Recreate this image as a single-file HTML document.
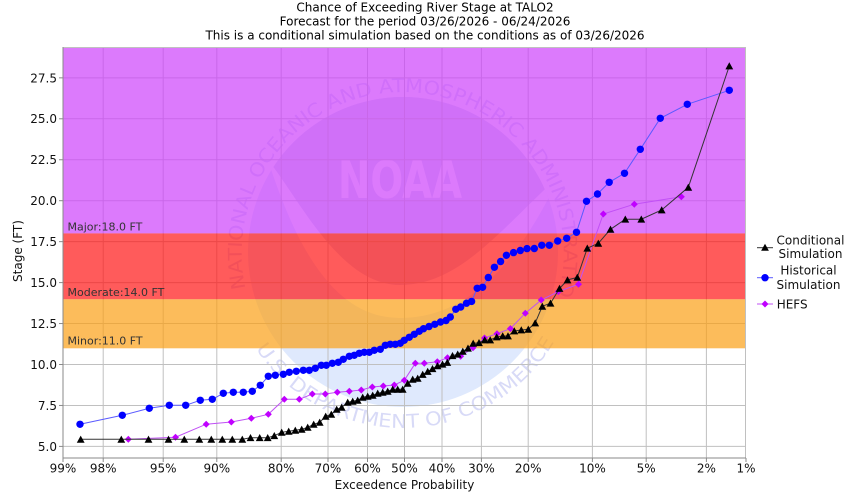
<!DOCTYPE html>
<html>
<head>
<meta charset="utf-8">
<style>
  html,body{margin:0;padding:0;background:#fff;}
  svg{display:block;}
  text{font-family:"DejaVu Sans","Liberation Sans",sans-serif;}
</style>
</head>
<body>
<svg width="850" height="500" viewBox="0 0 850 500" xmlns="http://www.w3.org/2000/svg">
  <defs>
    <clipPath id="plot"><rect x="63" y="47" width="683" height="411"/></clipPath>
    <clipPath id="circ"><circle cx="403" cy="252" r="155"/></clipPath>
    <path id="arcTop" d="M 245.6,288.4 A 161,161 0 1 1 559.2,290.9"/>
    <path id="arcBot" d="M 250.6,340 A 176,176 0 0 0 555.4,340"/>
    <marker id="mt" markerWidth="10" markerHeight="10" refX="5" refY="5" markerUnits="userSpaceOnUse" overflow="visible">
      <path d="M5,1.3 L1.1,8.4 L8.9,8.4 Z" fill="#000"/>
    </marker>
    <marker id="mc" markerWidth="10" markerHeight="10" refX="5" refY="5" markerUnits="userSpaceOnUse" overflow="visible">
      <circle cx="5" cy="5" r="3.7" fill="#0000ff"/>
    </marker>
    <marker id="md" markerWidth="10" markerHeight="10" refX="5" refY="5" markerUnits="userSpaceOnUse" overflow="visible">
      <path d="M5,1.5 L8.5,5 L5,8.5 L1.5,5 Z" fill="#c000ff"/>
    </marker>
  </defs>

  <!-- Title -->
  <text x="425" y="11.4" font-size="12" text-anchor="middle" fill="#000">Chance of Exceeding River Stage at TALO2</text>
  <text x="425" y="25.4" font-size="12" text-anchor="middle" fill="#000">Forecast for the period 03/26/2026 - 06/24/2026</text>
  <text x="425" y="39.4" font-size="12" text-anchor="middle" fill="#000">This is a conditional simulation based on the conditions as of 03/26/2026</text>

  <!-- Plot background -->
  <rect x="63" y="47" width="683" height="411" fill="#fff"/>

  <!-- Watermark -->
  <g clip-path="url(#plot)">
    <g clip-path="url(#circ)">
      <rect x="240" y="90" width="330" height="330" fill="#dfe9fd"/>
      <path d="M 240,90 L 240,160 L 268,160 C 300,200 340,285 400,285 C 460,285 500,230 560,175 L 570,175 L 570,90 Z" fill="#d7def1"/>
      <path d="M 268,160 C 300,200 340,285 400,285 C 460,285 500,230 560,175 C 520,260 470,318 400,318 C 340,318 300,260 268,160 Z" fill="#ffffff"/>
      <text x="400" y="198" font-size="52" font-weight="bold" text-anchor="middle" fill="#ffffff" textLength="124" lengthAdjust="spacingAndGlyphs">NOAA</text>
    </g>
    <text font-size="19" fill="#d8daf7">
      <textPath href="#arcTop" textLength="600" lengthAdjust="spacingAndGlyphs">NATIONAL OCEANIC AND ATMOSPHERIC ADMINISTRATION</textPath>
    </text>
    <text font-size="19" fill="#d8daf7">
      <textPath href="#arcBot" textLength="356" lengthAdjust="spacingAndGlyphs" startOffset="10">U.S. DEPARTMENT OF COMMERCE</textPath>
    </text>
  </g>

  <!-- Grid -->
  <g stroke="#c0c0c0" stroke-width="1">
    <line x1="63" x2="746" y1="446.4" y2="446.4"/>
    <line x1="63" x2="746" y1="405.45" y2="405.45"/>
    <line x1="63" x2="746" y1="364.5" y2="364.5"/>
    <line x1="63" x2="746" y1="323.55" y2="323.55"/>
    <line x1="63" x2="746" y1="282.6" y2="282.6"/>
    <line x1="63" x2="746" y1="241.65" y2="241.65"/>
    <line x1="63" x2="746" y1="200.7" y2="200.7"/>
    <line x1="63" x2="746" y1="159.75" y2="159.75"/>
    <line x1="63" x2="746" y1="118.8" y2="118.8"/>
    <line x1="63" x2="746" y1="77.85" y2="77.85"/>
    <line y1="47" y2="458" x1="103.2" x2="103.2"/>
    <line y1="47" y2="458" x1="163.2" x2="163.2"/>
    <line y1="47" y2="458" x1="216.8" x2="216.8"/>
    <line y1="47" y2="458" x1="281.2" x2="281.2"/>
    <line y1="47" y2="458" x1="328" x2="328"/>
    <line y1="47" y2="458" x1="367.5" x2="367.5"/>
    <line y1="47" y2="458" x1="404.5" x2="404.5"/>
    <line y1="47" y2="458" x1="442" x2="442"/>
    <line y1="47" y2="458" x1="481.4" x2="481.4"/>
    <line y1="47" y2="458" x1="528.2" x2="528.2"/>
    <line y1="47" y2="458" x1="592.4" x2="592.4"/>
    <line y1="47" y2="458" x1="646.2" x2="646.2"/>
    <line y1="47" y2="458" x1="706.4" x2="706.4"/>
  </g>

  <!-- Threshold bands -->
  <rect x="63" y="47" width="683" height="186.4" fill="#cd41fb" fill-opacity="0.7"/>
  <rect x="63" y="233.4" width="683" height="65.9" fill="#ff1616" fill-opacity="0.7"/>
  <rect x="63" y="299.3" width="683" height="49" fill="#fb9f16" fill-opacity="0.7"/>

  <text x="67.5" y="230.7" font-size="11" fill="#333">Major:18.0 FT</text>
  <text x="67.5" y="295.9" font-size="11" fill="#333">Moderate:14.0 FT</text>
  <text x="67.5" y="344.4" font-size="11" fill="#333">Minor:11.0 FT</text>

  <!-- Borders / axes -->
  <line x1="63" x2="746" y1="47.5" y2="47.5" stroke="#c0c0c0"/>
  <line x1="745.5" x2="745.5" y1="47" y2="458" stroke="#c0c0c0"/>
  <line x1="63" x2="63" y1="47" y2="458.5" stroke="#8a8a8a"/>
  <line x1="63" x2="746" y1="458" y2="458" stroke="#8a8a8a"/>

  <!-- Y ticks -->
  <g stroke="#8a8a8a">
    <line x1="59" x2="63" y1="446.4" y2="446.4"/>
    <line x1="59" x2="63" y1="405.45" y2="405.45"/>
    <line x1="59" x2="63" y1="364.5" y2="364.5"/>
    <line x1="59" x2="63" y1="323.55" y2="323.55"/>
    <line x1="59" x2="63" y1="282.6" y2="282.6"/>
    <line x1="59" x2="63" y1="241.65" y2="241.65"/>
    <line x1="59" x2="63" y1="200.7" y2="200.7"/>
    <line x1="59" x2="63" y1="159.75" y2="159.75"/>
    <line x1="59" x2="63" y1="118.8" y2="118.8"/>
    <line x1="59" x2="63" y1="77.85" y2="77.85"/>
  </g>
  <g font-size="12" fill="#111" text-anchor="end">
    <text x="57" y="450.8">5.0</text>
    <text x="57" y="409.9">7.5</text>
    <text x="57" y="368.9">10.0</text>
    <text x="57" y="328">12.5</text>
    <text x="57" y="287">15.0</text>
    <text x="57" y="246">17.5</text>
    <text x="57" y="205.1">20.0</text>
    <text x="57" y="164.1">22.5</text>
    <text x="57" y="123.2">25.0</text>
    <text x="57" y="82.3">27.5</text>
  </g>

  <!-- X ticks -->
  <g stroke="#8a8a8a">
    <line y1="458" y2="462" x1="63" x2="63"/>
    <line y1="458" y2="462" x1="103.2" x2="103.2"/>
    <line y1="458" y2="462" x1="163.2" x2="163.2"/>
    <line y1="458" y2="462" x1="216.8" x2="216.8"/>
    <line y1="458" y2="462" x1="281.2" x2="281.2"/>
    <line y1="458" y2="462" x1="328" x2="328"/>
    <line y1="458" y2="462" x1="367.5" x2="367.5"/>
    <line y1="458" y2="462" x1="404.5" x2="404.5"/>
    <line y1="458" y2="462" x1="442" x2="442"/>
    <line y1="458" y2="462" x1="481.4" x2="481.4"/>
    <line y1="458" y2="462" x1="528.2" x2="528.2"/>
    <line y1="458" y2="462" x1="592.4" x2="592.4"/>
    <line y1="458" y2="462" x1="646.2" x2="646.2"/>
    <line y1="458" y2="462" x1="706.4" x2="706.4"/>
    <line y1="458" y2="462" x1="746" x2="746"/>
  </g>
  <g font-size="12" fill="#111" text-anchor="middle">
    <text x="63" y="472.3">99%</text>
    <text x="103.2" y="472.3">98%</text>
    <text x="163.2" y="472.3">95%</text>
    <text x="216.8" y="472.3">90%</text>
    <text x="281.2" y="472.3">80%</text>
    <text x="328" y="472.3">70%</text>
    <text x="367.5" y="472.3">60%</text>
    <text x="404.5" y="472.3">50%</text>
    <text x="442" y="472.3">40%</text>
    <text x="481.4" y="472.3">30%</text>
    <text x="528.2" y="472.3">20%</text>
    <text x="592.4" y="472.3">10%</text>
    <text x="646.2" y="472.3">5%</text>
    <text x="706.4" y="472.3">2%</text>
    <text x="746" y="472.3">1%</text>
  </g>

  <text x="404.5" y="488.8" font-size="12" text-anchor="middle" fill="#111">Exceedence Probability</text>
  <text transform="translate(21.8,251) rotate(-90)" font-size="12" text-anchor="middle" fill="#111">Stage (FT)</text>

  <!-- Series -->
  <g clip-path="url(#plot)">
  <polyline fill="none" stroke="#c050f5" stroke-width="1" marker-start="url(#md)" marker-mid="url(#md)" marker-end="url(#md)"
    points="128.3,439.3 175.5,437.2 206.2,424.2 231.3,422 251.3,418.3 268.3,414.3 284.3,399.3 299.3,399.3 312.3,394 325.3,394 337.3,392.3 349.3,391.3 361.3,390 372.3,387 383.3,386 394.3,385 404.3,380.3 415.3,363.3 424.3,363.3 437.3,361.7 447.5,357.7 460.7,356.3 473,347.8 484.5,338 497,333.7 510.4,328.6 525.3,313.2 541.2,300 558.3,291.6 578.5,284.2 603.3,214 634.3,204.2 681.3,196.7"/>
  <polyline fill="none" stroke="#5a5aff" stroke-width="1" marker-start="url(#mc)" marker-mid="url(#mc)" marker-end="url(#mc)"
    points="80,424.3 122.3,415.3 149.3,408.3 169.3,405.3 185.7,405.3 200.3,400.3 212.3,399.3 223.3,393.3 233.3,392.3 243.3,392.3 252.3,391.3 260.3,385.3 268.3,376.3 275.3,375.3 283.3,374.3 289.3,372.3 296.3,371.3 303.3,370.3 309.3,370.3 315.3,368.3 321.3,365.3 326.3,365.3 332.3,363.3 338.3,362.3 343.3,359.3 349.3,356.3 354.3,355.3 359.3,353.3 364.3,352.3 369.3,352.3 374.3,350.3 380.3,349.3 385.3,345.3 390.3,344.3 395.3,344.3 400.3,343.3 404.3,340.3 409.3,337.3 414.3,334.3 419.3,331.3 423.5,328.7 429,326.5 434.8,324.3 440.5,322 446,320.5 450.3,317 455.8,309.3 460.7,307 466.5,303.2 471.6,301.4 477.2,288.3 482.6,287.3 488.3,277.5 494.4,267.3 500.6,261.5 506.4,255.3 513.5,252.6 520.3,250.5 527,248.6 534.3,248.5 541.8,245.3 549.3,245.3 557.7,241 566.7,238.3 576.5,232.3 586.5,201.3 597.5,194 609.2,182.3 624.5,173.3 640.3,149.3 660.3,118.3 687.3,104.3 729.3,90.3"/>
  <polyline fill="none" stroke="#333" stroke-width="1" marker-start="url(#mt)" marker-mid="url(#mt)" marker-end="url(#mt)"
    points="80.7,439.3 121.3,439.3 148.5,439.3 168.5,439.3 184.3,439.3 199.3,439.3 211.3,439.3 222.3,439.3 232.3,439.3 242.3,439.3 250.5,437.7 259.7,437.7 267.7,437.7 274.3,435.7 281.7,432.3 288.7,431.3 295.3,430.3 301.7,429.3 307.7,427.3 313.7,424.3 319.7,422.3 325.7,416.3 331.3,414.3 336.7,409.3 341.7,407.3 347.7,402.3 352.7,401.3 357.7,400.3 362.7,397.3 367.7,396.3 372.7,395.3 377.7,393.3 382.7,392.3 387.7,391.3 392.7,389.3 397.7,389.3 402.7,389.3 407.7,383.3 412.7,379.3 417.7,378.3 422.7,374.5 427.7,371.5 432.5,368.7 437.5,365.8 442.5,364.2 447.3,362.5 452.5,355.7 457.7,354.2 462.8,351.3 468,348.2 473.2,343.3 479,342.7 484.7,340 490.2,340 496.7,337 502.7,336 508,336 514.3,331 521.3,330 528.3,329.3 535.2,323 542.3,306.3 550.5,303.2 559.5,288.5 567.5,280 577.3,277.3 587.3,248.2 598.3,243.3 610.5,229.3 625.3,219.2 641.3,219.2 661.7,210 688.3,187.3 729.3,66"/>
  </g>

  <!-- Legend -->
  <line x1="757" x2="773" y1="247.7" y2="247.7" stroke="#333"/>
  <path d="M765,243.7 L761.1,250.8 L768.9,250.8 Z" fill="#000"/>
  <text x="810.5" y="244.4" font-size="12" text-anchor="middle" fill="#111">Conditional</text>
  <text x="810.5" y="257.8" font-size="12" text-anchor="middle" fill="#111">Simulation</text>

  <line x1="757" x2="773" y1="277.7" y2="277.7" stroke="#5a5aff"/>
  <circle cx="765" cy="277.7" r="3.7" fill="#0000ff"/>
  <text x="808.5" y="274.4" font-size="12" text-anchor="middle" fill="#111">Historical</text>
  <text x="808.5" y="288.8" font-size="12" text-anchor="middle" fill="#111">Simulation</text>

  <line x1="757" x2="773" y1="304" y2="304" stroke="#c050f5"/>
  <path d="M765,300.5 L768.5,304 L765,307.5 L761.5,304 Z" fill="#c000ff"/>
  <text x="776.7" y="308.6" font-size="12" fill="#111">HEFS</text>
</svg>
</body>
</html>
